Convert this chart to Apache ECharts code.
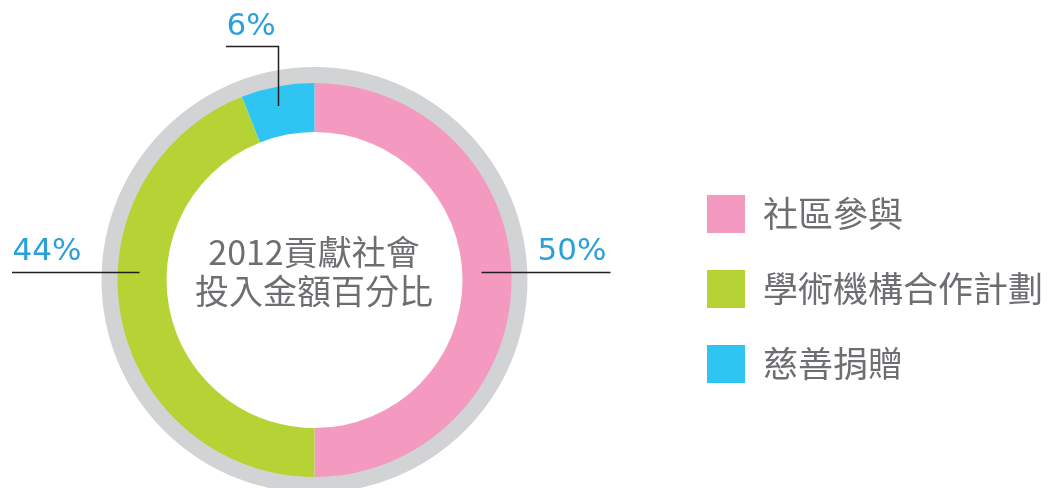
<!DOCTYPE html>
<html>
<head>
<meta charset="utf-8">
<script src="https://cdn.jsdelivr.net/npm/echarts@6/dist/echarts.min.js"></script>
<style>
  html, body { margin: 0; padding: 0; background: #fff; }
  #chart { width: 1050px; height: 488px; }
</style>
</head>
<body>
<div id="chart"></div>
<script>
const categories = ["社區參與", "學術機構合作計劃", "慈善捐贈"];
const shares = [50, 44, 6];
const sliceColors = ["#f49ac1", "#b5d334", "#2ec5f3"];
const centerLines = ["2012貢獻社會", "投入金額百分比"];

// ring geometry (px)
const CX = 314.5;
const CY = 280;
const textGrey = "#6d6e71";
const labelBlue = "#2a9fd9";
const guideColor = "#231f20";

const chart = echarts.init(document.getElementById("chart"));

// custom label placement per slice
function placeLabel(params) {
  const i = params.dataIndex;
  if (i === 0) {
    return { x: CX + 292, y: CY - 28, align: "right", verticalAlign: "middle" };
  }
  if (i === 1) {
    return { x: CX - 302, y: CY - 28, align: "left", verticalAlign: "middle" };
  }
  return { x: CX - 63.5, y: CY - 253, align: "center", verticalAlign: "middle" };
}

// guide lines, drawn by hand because the pie recomputes its own
const guides = [
  [[CX + 167, CY - 7.5], [CX + 296, CY - 7.5]],
  [[CX - 175, CY - 7.5], [CX - 302.5, CY - 7.5]],
  [[CX - 36, CY - 174], [CX - 36, CY - 233.5], [CX - 88.5, CY - 233.5]]
];

const option = {
  animation: false,
  color: sliceColors,
  legend: {
    orient: "vertical",
    left: 707,
    top: 195,
    padding: 0,
    itemWidth: 38,
    itemHeight: 38,
    itemGap: 37,
    icon: "rect",
    selectedMode: false,
    data: categories,
    textStyle: {
      fontFamily: "Noto Sans CJK TC",
      fontSize: 35,
      color: textGrey,
      padding: [0, 0, 0, 13]
    }
  },
  graphic: [
    {
      type: "text",
      x: 314,
      y: 233,
      z: 10,
      style: {
        text: centerLines.join("\n"),
        fontFamily: "Noto Sans CJK TC",
        fontSize: 34,
        lineHeight: 39,
        fill: textGrey,
        align: "center"
      }
    }
  ].concat(guides.map(pts => ({
    type: "polyline",
    z: 10,
    silent: true,
    shape: { points: pts },
    style: { stroke: guideColor, lineWidth: 1.5, fill: null }
  }))),
  series: [
    {
      type: "pie",
      silent: true,
      center: [CX, CY],
      radius: [196, 213],
      z: 1,
      label: { show: false },
      labelLine: { show: false },
      itemStyle: { color: "#d1d3d4" },
      data: [{ value: 1, name: "" }]
    },
    {
      type: "pie",
      silent: true,
      center: [CX, CY],
      radius: [148, 197],
      startAngle: 90,
      clockwise: true,
      z: 2,
      label: {
        show: true,
        position: "outside",
        formatter: "{c}%",
        overflow: "none",
        fontFamily: "DejaVu Sans",
        fontSize: 31,
        color: labelBlue
      },
      labelLine: { show: false },
      labelLayout: placeLabel,
      data: categories.map((name, i) => ({ name: name, value: shares[i] }))
    }
  ]
};

chart.setOption(option);
</script>
</body>
</html>
